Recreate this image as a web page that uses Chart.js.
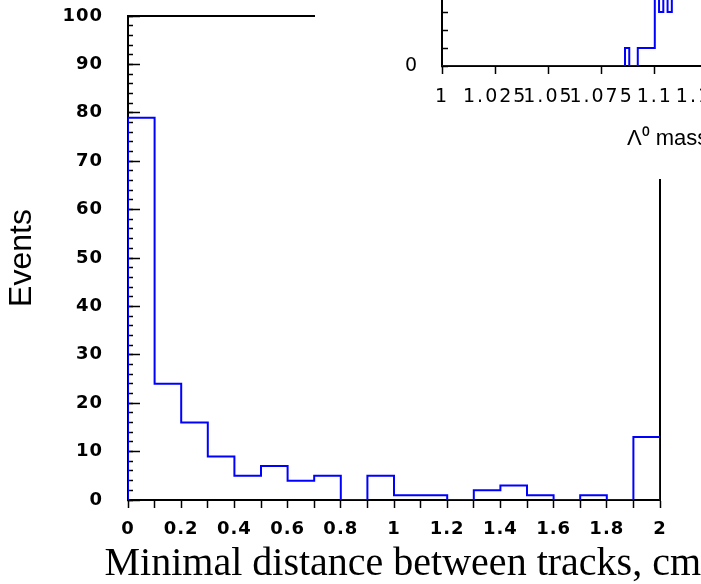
<!DOCTYPE html>
<html lang="en">
<head>
<meta charset="UTF-8">
<title>Minimal distance between tracks</title>
<script src="https://cdn.jsdelivr.net/npm/chart.js"></script>
<style>
  html, body { margin: 0; padding: 0; background: #fff; overflow: hidden; }
  #wrap { position: relative; width: 701px; height: 584px; overflow: hidden; background: #fff; }
  #main { position: absolute; left: 0; top: 0; }
  /* inset sits in the top right corner, partly outside the picture */
  #inset { position: absolute; left: 315px; top: -500px; }
</style>
</head>
<body>
<div id="wrap">
  <canvas id="main" width="701" height="584"></canvas>
  <canvas id="inset" width="700" height="679"></canvas>
</div>
<script>
// main histogram: minimal distance between tracks, 0.1 cm bins
const distEdges = [0, 0.1, 0.2, 0.3, 0.4, 0.5, 0.6, 0.7, 0.8, 0.9, 1.0,
                   1.1, 1.2, 1.3, 1.4, 1.5, 1.6, 1.7, 1.8, 1.9, 2.0];
const distCounts = [79, 24, 16, 9, 5, 7, 4, 5, 0, 5, 1, 1, 0, 2, 3, 1, 0, 1, 0, 13];
const distTicks = ['0', '0.2', '0.4', '0.6', '0.8', '1', '1.2', '1.4', '1.6', '1.8', '2'];
const eventTicks = ['0', '10', '20', '30', '40', '50', '60', '70', '80', '90', '100'];

// inset: Lambda0 mass, 0.002 bins (runs of equal bins merged)
const massEdges = [1.000, 1.086, 1.088, 1.092, 1.100, 1.102, 1.104, 1.106, 1.108, 1.110,
                   1.112, 1.114, 1.116, 1.118, 1.120, 1.122, 1.124, 1.126, 1.128, 1.130];
const massCounts = [0, 1, 0, 1, 6, 3, 7, 3, 9, 12, 15, 19, 21, 17, 14, 10, 8, 5, 4];
const massTicks = ['1', '1.025', '1.05', '1.075', '1.1', '1.125', '1.15', '1.175', '1.2', '1.225', '1.25'];
const massCountTicks = ['0', '5', '10', '15', '20', '25', '30'];

// histogram outline as stepped line points
function stepPoints(edges, counts) {
  const pts = [{x: edges[0], y: 0}];
  counts.forEach((c, i) => pts.push({x: edges[i], y: c}));
  pts.push({x: edges[edges.length - 1], y: 0});
  return pts;
}

function pick(list) {
  return v => {
    const s = list.find(t => Math.abs(parseFloat(t) - v) < 1e-6);
    return s === undefined ? '' : s;
  };
}

// fixed axis sizes; drop the label overhang padding so the plot area stays put
function fixSize(size) {
  return s => {
    if (s.isHorizontal()) s.height = size; else s.width = size;
    s.paddingTop = s.paddingBottom = s.paddingLeft = s.paddingRight = 0;
  };
}

// white background + wide tick labels (ticks are drawn after the datasets, z: 1)
const tickSpacing = {
  id: 'tickSpacing',
  beforeDraw(chart) {
    const ctx = chart.ctx;
    ctx.save();
    ctx.fillStyle = '#fff';
    ctx.fillRect(0, 0, chart.width, chart.height);
    ctx.restore();
    ctx.letterSpacing = '0px';
  },
  afterDatasetsDraw(chart, args, opts) {
    chart.ctx.letterSpacing = opts.px + 'px';
  },
  afterDraw(chart) {
    chart.ctx.letterSpacing = '0px';
  }
};

const black = '#000';
const blue = 'rgb(0, 0, 255)';

function frameAxis(position, min, max, size) {
  return {
    type: 'linear', position: position, min: min, max: max,
    border: { color: black, width: 2 },
    grid: { drawOnChartArea: false, drawTicks: false },
    ticks: { display: false },
    afterFit: fixSize(size)
  };
}

new Chart(document.getElementById('main'), {
  type: 'line',
  data: {
    datasets: [{
      data: stepPoints(distEdges, distCounts),
      borderColor: blue,
      borderWidth: 2,
      borderJoinStyle: 'miter',
      pointRadius: 0,
      stepped: 'before',
      fill: false,
      xAxisID: 'x',
      yAxisID: 'y'
    }]
  },
  options: {
    responsive: false,
    animation: false,
    devicePixelRatio: 1,
    layout: { padding: { left: 0, top: 16, right: 0, bottom: 0 } },
    plugins: {
      legend: { display: false },
      tooltip: { enabled: false },
      tickSpacing: { px: 1 }
    },
    scales: {
      x: {
        type: 'linear', position: 'bottom', min: 0, max: 2, weight: 0,
        border: { color: black, width: 2 },
        grid: { drawOnChartArea: false, tickLength: 8, tickColor: black, tickWidth: 1.5 },
        ticks: {
          stepSize: 0.1, autoSkip: false, maxRotation: 0, padding: 11, z: 1,
          color: black, font: { family: 'DejaVu Sans', size: 18, weight: 'bold' },
          callback: pick(distTicks)
        },
        afterFit: fixSize(40)
      },
      // full-width strip under the axis that carries the x title
      xLabel: {
        type: 'linear', position: 'bottom', min: 0, max: 1, weight: 1, fullSize: true,
        border: { display: false },
        grid: { display: false },
        ticks: { display: false },
        title: {
          display: true, text: 'Minimal distance between tracks, cm', color: black, align: 'end',
          font: { family: 'Liberation Serif', size: 40, lineHeight: 1 },
          padding: { top: 0, bottom: 0 }
        },
        afterFit: fixSize(44)
      },
      xTop: frameAxis('top', 0, 2, 0),
      y: {
        type: 'linear', position: 'left', min: 0, max: 100, weight: 1,
        border: { color: black, width: 2 },
        grid: { drawOnChartArea: false, tickLength: -12, tickColor: black, tickWidth: 1.5 },
        ticks: {
          stepSize: 10, autoSkip: false, padding: 37, z: 1,
          color: black, font: { family: 'DejaVu Sans', size: 18, weight: 'bold' },
          callback: pick(eventTicks)
        },
        title: {
          display: true, text: 'Events', color: black,
          font: { family: 'Liberation Sans', size: 32, lineHeight: 1 },
          padding: { top: 6, bottom: 0 }
        },
        afterFit: fixSize(128)
      },
      yMinor: {
        type: 'linear', position: 'left', min: 0, max: 100, weight: 0,
        border: { display: false },
        grid: { drawOnChartArea: false, tickLength: -5, tickColor: black, tickWidth: 1.5 },
        ticks: { stepSize: 2, display: false },
        afterFit: fixSize(0)
      },
      yRight: frameAxis('right', 0, 100, 41)
    }
  },
  plugins: [tickSpacing]
});

new Chart(document.getElementById('inset'), {
  type: 'line',
  data: {
    datasets: [{
      data: stepPoints(massEdges, massCounts),
      borderColor: blue,
      borderWidth: 2,
      borderJoinStyle: 'miter',
      pointRadius: 0,
      stepped: 'before',
      fill: false
    }]
  },
  options: {
    responsive: false,
    animation: false,
    devicePixelRatio: 1,
    layout: { padding: { left: 0, top: 26, right: 41, bottom: 0 } },
    plugins: {
      legend: { display: false },
      tooltip: { enabled: false },
      tickSpacing: { px: 2 }
    },
    scales: {
      x: {
        type: 'linear', position: 'bottom', min: 1, max: 1.25,
        border: { color: black, width: 2 },
        grid: { drawOnChartArea: false, tickLength: 8, tickColor: black, tickWidth: 1.5 },
        ticks: {
          stepSize: 0.025, autoSkip: false, maxRotation: 0, padding: 12, z: 1,
          color: black, font: { family: 'DejaVu Sans', size: 19 },
          callback: pick(massTicks)
        },
        title: {
          display: true, text: 'Λ⁰ mass, GeV/c²', color: black,
          font: { family: 'Liberation Sans', size: 22, lineHeight: 1 },
          padding: { top: 0, bottom: 29 }
        },
        afterFit: fixSize(113)
      },
      y: {
        type: 'linear', position: 'left', min: 0, max: 30,
        border: { color: black, width: 2 },
        grid: { drawOnChartArea: false, tickLength: -6, tickColor: black, tickWidth: 1.5 },
        ticks: {
          stepSize: 1, autoSkip: false, padding: 29, z: 1,
          color: black, font: { family: 'DejaVu Sans', size: 19 },
          callback: pick(massCountTicks)
        },
        afterFit: fixSize(127)
      }
    }
  },
  plugins: [tickSpacing]
});
</script>
</body>
</html>
